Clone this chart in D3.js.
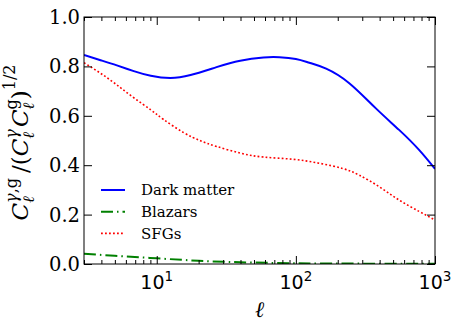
<!DOCTYPE html>
<html>
<head>
<meta charset="utf-8">
<script src="https://cdn.jsdelivr.net/npm/d3@7"></script>
<style>
  body { margin: 0; background: #fff; }
</style>
</head>
<body>
<svg id="chart"></svg>
<script>
// values
const dmEll = [3, 4, 5.17, 6.84, 9.06, 12.5, 17.5, 26.9, 39.8, 58.5, 76.2, 100, 125, 165, 242, 376, 552, 768, 1000];
const dmVal = [0.846, 0.824, 0.804, 0.781, 0.762, 0.753, 0.765, 0.797, 0.823, 0.836, 0.837, 0.830, 0.815, 0.791, 0.732, 0.630, 0.543, 0.462, 0.385];

const blzEll = [3, 5, 10, 20, 40, 100, 300, 1000];
const blzVal = [0.042, 0.033, 0.023, 0.013, 0.007, 0.003, 0.0015, 0.001];

const sfgEll = [3, 3.95, 5.17, 6.84, 9.06, 11.2, 15.6, 20.6, 26.9, 39.8, 58.5, 94.8, 147, 216, 285, 397, 552, 768, 1000];
const sfgVal = [0.815, 0.772, 0.725, 0.673, 0.624, 0.585, 0.532, 0.499, 0.476, 0.449, 0.433, 0.424, 0.408, 0.387, 0.360, 0.313, 0.259, 0.213, 0.178];

const yTicks = [0, 0.2, 0.4, 0.6, 0.8, 1.0];
const xMajor = [10, 100, 1000];
const xMinor = [3, 4, 5, 6, 7, 8, 9, 20, 30, 40, 50, 60, 70, 80, 90, 200, 300, 400, 500, 600, 700, 800, 900];

const legendItems = ["Dark matter", "Blazars", "SFGs"];

const W = 463, H = 331;
const margin = { top: 17, right: 28, bottom: 67, left: 84 };
const width = W - margin.left - margin.right;
const height = H - margin.top - margin.bottom;

const svg = d3.select("#chart").attr("width", W).attr("height", H);
const g = svg.append("g").attr("transform", `translate(${margin.left},${margin.top})`);

const x = d3.scaleLog().domain([3, 1000]).range([0, width]);
const y = d3.scaleLinear().domain([0, 1]).range([height, 0]);

// curves
const line = d3.line()
    .x(d => x(d[0]))
    .y(d => y(d[1]))
    .curve(d3.curveNatural);

const series = [
    { name: "Dark matter", ell: dmEll, val: dmVal, color: "#0000ff", w: 2, dash: null },
    { name: "Blazars", ell: blzEll, val: blzVal, color: "#008000", w: 2, dash: "12,4,1.5,4" },
    { name: "SFGs", ell: sfgEll, val: sfgVal, color: "#ff0000", w: 1.6, dash: "1.8,2.2" }
];

svg.append("clipPath").attr("id", "clip")
    .append("rect").attr("width", width).attr("height", height);

const plot = g.append("g").attr("clip-path", "url(#clip)");
series.forEach(s => {
    plot.append("path")
        .datum(d3.zip(s.ell, s.val))
        .attr("fill", "none")
        .attr("stroke", s.color)
        .attr("stroke-width", s.w)
        .attr("stroke-dasharray", s.dash)
        .attr("d", line);
});

// axes: ticks pointing inward on all four sides
const tickStyle = sel => {
    sel.select(".domain").remove();
    sel.selectAll(".tick line").attr("stroke", "#000").attr("stroke-width", 1);
    sel.selectAll(".tick text").remove();
};

g.append("g").attr("transform", `translate(0,${height})`)
    .call(d3.axisBottom(x).tickValues(xMajor).tickSize(-8)).call(tickStyle);
g.append("g").attr("transform", `translate(0,${height})`)
    .call(d3.axisBottom(x).tickValues(xMinor).tickSize(-4)).call(tickStyle);
g.append("g")
    .call(d3.axisTop(x).tickValues(xMajor).tickSize(-8)).call(tickStyle);
g.append("g")
    .call(d3.axisTop(x).tickValues(xMinor).tickSize(-4)).call(tickStyle);
g.append("g")
    .call(d3.axisLeft(y).tickValues(yTicks).tickSize(-8)).call(tickStyle);
g.append("g").attr("transform", `translate(${width},0)`)
    .call(d3.axisRight(y).tickValues(yTicks).tickSize(-8)).call(tickStyle);

// frame
g.append("rect")
    .attr("width", width).attr("height", height)
    .attr("fill", "none").attr("stroke", "#000").attr("stroke-width", 1);

// y tick labels
g.selectAll(".ylab").data(yTicks).join("text")
    .attr("x", -4)
    .attr("y", d => y(d))
    .attr("dy", "0.36em")
    .attr("text-anchor", "end")
    .style("font-family", "DejaVu Serif")
    .style("font-size", "19.5px")
    .text(d => d.toFixed(1));

// x tick labels 10^n
xMajor.forEach(v => {
    const t = g.append("text")
        .attr("x", x(v))
        .attr("y", height + 25)
        .attr("text-anchor", "middle")
        .style("font-family", "DejaVu Sans")
        .style("font-size", "19px");
    t.append("tspan").text("10");
    t.append("tspan").attr("dy", -8).style("font-size", "13.5px").text(Math.round(Math.log10(v)));
});

// x axis label
g.append("text")
    .attr("x", width / 2)
    .attr("y", height + 53)
    .attr("text-anchor", "middle")
    .style("font-family", "DejaVu Serif")
    .style("font-style", "italic")
    .style("font-size", "22px")
    .text("ℓ");

// y axis label, laid out piece by piece
const ylab = svg.append("g");
const inner = ylab.append("g");
let cx = 0;
const put = (txt, size, off, italic, at) => {
    const t = inner.append("text")
        .attr("x", at === undefined ? cx : at).attr("y", off)
        .style("font-family", "DejaVu Serif")
        .style("font-style", italic ? "italic" : "normal")
        .style("font-size", size + "px")
        .text(txt);
    return t.node().getComputedTextLength();
};
const main = (txt, italic) => { cx += put(txt, 23, 0, italic); };
const subsup = (sub, sup) => {
    const a = put(sub, 16, 6, true);
    // superscript pieces: [text, italic]
    let b = 0;
    sup.forEach(([t, it]) => { b += put(t, 16, -11, it, cx + b); });
    cx += Math.max(a, b);
};
main("C", true); subsup("ℓ", [["γ", true], [",", false], ["g", false]]);
cx += 5; main("/(", false);
main("C", true); subsup("ℓ", [["γ", true]]);
cx += 2; main("C", true); subsup("ℓ", [["g", false]]);
main(")", false);
cx += put("1/2", 16, -13, false);
inner.attr("transform", `translate(${-cx / 2},0)`);
ylab.attr("transform", `translate(28,${margin.top + height / 2 + 2}) rotate(-90)`);

// legend
const leg = g.append("g").attr("transform", "translate(17,173)");
series.forEach((s, i) => {
    const row = leg.append("g").attr("transform", `translate(0,${i * 21.7})`);
    row.append("line")
        .attr("x1", 0).attr("x2", 24)
        .attr("stroke", s.color)
        .attr("stroke-width", s.w)
        .attr("stroke-dasharray", s.dash);
    row.append("text")
        .attr("x", 40).attr("dy", "0.36em")
        .style("font-family", "DejaVu Serif")
        .style("font-size", "15px")
        .text(legendItems[i]);
});
</script>
</body>
</html>
